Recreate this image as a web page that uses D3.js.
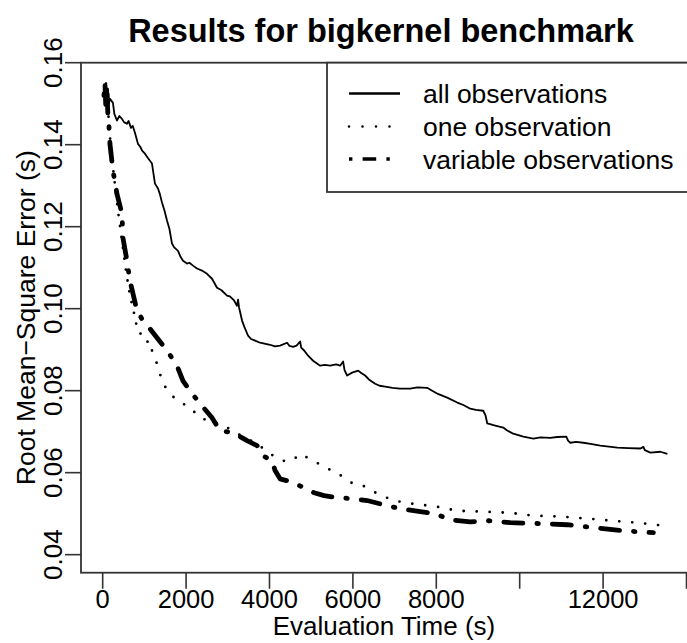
<!DOCTYPE html>
<html>
<head>
<meta charset="utf-8">
<script src="https://cdn.jsdelivr.net/npm/d3@7"></script>
<style>
  body { margin: 0; background: #fff; }
  text { font-family: "Liberation Sans", Arial, Helvetica, sans-serif; fill: #000; }
</style>
</head>
<body>
<div id="chart"></div>
<script>
// [evaluation time (s), rmse (s)]
var allObs = [[30,0.1520],[80,0.1545],[110,0.1510],[126,0.1537],[150,0.1500],[175,0.1512],[246,0.1502],[280,0.1475],[342,0.1459],[400,0.1470],[462,0.1463],[510,0.1455],[582,0.1451],[620,0.1458],[678,0.1441],[720,0.1446],[774,0.1429],[846,0.1402],[900,0.1395],[950,0.1385],[1014,0.1378],[1080,0.1368],[1182,0.1354],[1254,0.1305],[1326,0.1293],[1370,0.1280],[1422,0.1259],[1480,0.1240],[1542,0.1215],[1600,0.1195],[1662,0.1159],[1710,0.1150],[1806,0.1141],[1860,0.1128],[1926,0.1117],[2022,0.1110],[2080,0.1112],[2166,0.1105],[2262,0.1098],[2380,0.1093],[2502,0.1085],[2622,0.1073],[2742,0.1051],[2850,0.1045],[2982,0.1032],[3050,0.1030],[3150,0.1020],[3222,0.1007],[3246,0.1022],[3270,0.1003],[3342,0.0971],[3400,0.0955],[3486,0.0934],[3560,0.0926],[3654,0.0922],[3774,0.0917],[3880,0.0915],[4014,0.0912],[4130,0.0908],[4254,0.0910],[4422,0.0917],[4480,0.0909],[4566,0.0907],[4650,0.0910],[4734,0.0920],[4760,0.0905],[4830,0.0898],[4920,0.0886],[5046,0.0873],[5214,0.0861],[5330,0.0863],[5454,0.0861],[5600,0.0864],[5694,0.0861],[5766,0.0871],[5800,0.0850],[5862,0.0837],[5982,0.0844],[6126,0.0849],[6200,0.0843],[6294,0.0837],[6400,0.0826],[6534,0.0817],[6640,0.0812],[6774,0.0810],[6950,0.0807],[7134,0.0805],[7374,0.0805],[7550,0.0808],[7782,0.0807],[7900,0.0800],[8022,0.0793],[8262,0.0783],[8502,0.0771],[8650,0.0765],[8814,0.0756],[8950,0.0753],[9126,0.0751],[9180,0.0740],[9222,0.0720],[9414,0.0715],[9606,0.0710],[9700,0.0703],[9846,0.0695],[10086,0.0688],[10326,0.0683],[10500,0.0686],[10734,0.0685],[10900,0.0687],[11118,0.0688],[11160,0.0678],[11214,0.0673],[11350,0.0675],[11526,0.0673],[11700,0.0670],[11934,0.0666],[12342,0.0661],[12600,0.0660],[12894,0.0659],[12966,0.0663],[13000,0.0655],[13134,0.0649],[13374,0.0651],[13542,0.0646]]

var oneObs = [[30,0.1527],[78,0.1551],[102,0.1507],[150,0.1459],[198,0.1385],[270,0.1324],[366,0.1239],[462,0.1166],[558,0.1093],[654,0.1032],[750,0.0990],[822,0.0954],[966,0.0929],[1062,0.0922],[1182,0.0898],[1302,0.0866],[1374,0.0841],[1446,0.0817],[1614,0.0793],[1782,0.0776],[2022,0.0763],[2142,0.0756],[2262,0.0739],[2502,0.0727],[2694,0.0720],[2862,0.0720],[3126,0.0700],[3462,0.0683],[3702,0.0671],[3846,0.0659],[3966,0.0649],[4134,0.0639],[4326,0.0629],[4542,0.0629],[4734,0.0646],[4902,0.0637],[5142,0.0624],[5382,0.0610],[5622,0.0600],[5814,0.0585],[6006,0.0573],[6246,0.0568],[6486,0.0554],[6966,0.0532],[7446,0.0524],[8022,0.0517],[8502,0.0507],[9126,0.0505],[9774,0.0502],[10326,0.0495],[10974,0.0493],[11622,0.0488],[12174,0.0483],[12822,0.0478],[13422,0.0471]]

var varObs = [[30,0.1520],[54,0.1551],[78,0.1483],[102,0.1532],[126,0.1470],[150,0.1446],[174,0.1402],[246,0.1337],[342,0.1280],[414,0.1251],[462,0.1232],[486,0.1173],[582,0.1117],[654,0.1068],[726,0.1037],[822,0.0995],[966,0.0971],[1134,0.0951],[1302,0.0929],[1542,0.0898],[1782,0.0861],[1926,0.0824],[2142,0.0793],[2382,0.0763],[2622,0.0734],[2814,0.0702],[3126,0.0698],[3462,0.0678],[3702,0.0666],[3846,0.0641],[4062,0.0629],[4134,0.0605],[4254,0.0585],[4566,0.0576],[5070,0.0551],[5310,0.0544],[5622,0.0539],[5934,0.0537],[6342,0.0532],[6654,0.0524],[7134,0.0512],[7614,0.0505],[7974,0.0500],[8214,0.0490],[8334,0.0485],[8814,0.0480],[9222,0.0483],[9774,0.0478],[10422,0.0476],[11142,0.0473],[11766,0.0466],[12414,0.0459],[12822,0.0456],[13206,0.0454]]

var xTicks = [0, 2000, 4000, 6000, 8000, 10000, 12000, 14000]
var xLabels = [0, 2000, 4000, 6000, 8000, 12000]
var yTicks = [0.04, 0.06, 0.08, 0.10, 0.12, 0.14, 0.16]
var legendNames = ["all observations", "one observation", "variable observations"]

var W = 687, H = 643
var box = {left: 81, right: 689, top: 62.7, bottom: 572.7}

var x = d3.scaleLinear().domain([-520, 14060]).range([box.left, box.right])
var y = d3.scaleLinear().domain([0.0356, 0.16]).range([box.bottom, box.top])

var svg = d3.select("#chart").append("svg")
  .attr("width", W).attr("height", H)
  .style("background", "#fff")

svg.append("clipPath").attr("id", "plotclip")
  .append("rect")
  .attr("x", box.left).attr("y", box.top)
  .attr("width", box.right - box.left).attr("height", box.bottom - box.top)

var line = d3.line().x(function(d){ return x(d[0]) }).y(function(d){ return y(d[1]) })
var lines = svg.append("g").attr("clip-path", "url(#plotclip)")

lines.append("path").datum(allObs)
  .attr("d", line).attr("fill", "none")
  .attr("stroke", "#000").attr("stroke-width", 1.8)
  .attr("stroke-linejoin", "round")

// dots sit closer on the steep part than on the flat tail
var split = 14
lines.append("path").datum(oneObs.slice(0, split + 1))
  .attr("d", line).attr("fill", "none")
  .attr("stroke", "#000").attr("stroke-width", 2.8)
  .attr("stroke-linecap", "round").attr("stroke-dasharray", "0,11")
lines.append("path").datum(oneObs.slice(split))
  .attr("d", line).attr("fill", "none")
  .attr("stroke", "#000").attr("stroke-width", 2.8)
  .attr("stroke-linecap", "round").attr("stroke-dasharray", "0,13")

lines.append("path").datum(varObs)
  .attr("d", line).attr("fill", "none")
  .attr("stroke", "#000").attr("stroke-width", 4.8)
  .attr("stroke-linecap", "round").attr("stroke-linejoin", "round")
  .attr("stroke-dasharray", "1.5,14,19,14")

// box
svg.append("rect")
  .attr("x", box.left).attr("y", box.top)
  .attr("width", box.right - box.left).attr("height", box.bottom - box.top)
  .attr("fill", "none").attr("stroke", "#333").attr("stroke-width", 1.8)

// x axis
var xAxis = svg.append("g")
xAxis.selectAll("line.tick").data(xTicks).enter().append("line")
  .attr("x1", function(d){ return x(d) }).attr("x2", function(d){ return x(d) })
  .attr("y1", box.bottom).attr("y2", box.bottom + 16)
  .attr("stroke", "#333").attr("stroke-width", 1.6)
xAxis.selectAll("text").data(xLabels).enter().append("text")
  .attr("x", function(d){ return x(d) }).attr("y", 608)
  .attr("text-anchor", "middle").style("font-size", "25.5px")
  .text(function(d){ return d })

// y axis
var yAxis = svg.append("g")
yAxis.selectAll("line").data(yTicks).enter().append("line")
  .attr("x1", box.left - 16).attr("x2", box.left)
  .attr("y1", function(d){ return y(d) }).attr("y2", function(d){ return y(d) })
  .attr("stroke", "#333").attr("stroke-width", 1.6)
yAxis.selectAll("text").data(yTicks).enter().append("text")
  .attr("transform", function(d){ return "translate(62," + y(d) + ") rotate(-90)" })
  .attr("text-anchor", "middle").style("font-size", "26px")
  .text(function(d){ return d3.format(".2f")(d) })

// titles
svg.append("text")
  .attr("x", 381).attr("y", 42)
  .attr("text-anchor", "middle")
  .style("font-size", "32.5px").style("font-weight", "bold")
  .text("Results for bigkernel benchmark")
svg.append("text")
  .attr("x", 384).attr("y", 635)
  .attr("text-anchor", "middle").style("font-size", "26px")
  .text("Evaluation Time (s)")
svg.append("text")
  .attr("transform", "translate(35," + ((box.top + box.bottom) / 2) + ") rotate(-90)")
  .attr("text-anchor", "middle").style("font-size", "26.5px")
  .text("Root Mean\u2212Square Error (s)")

// legend
var lg = svg.append("g")
lg.append("rect")
  .attr("x", 327).attr("y", box.top).attr("width", 400).attr("height", 192 - box.top)
  .attr("fill", "#fff").attr("stroke", "#333").attr("stroke-width", 1.8)
var rowY = [93.5, 126.5, 159]
var rowStyle = [
  {w: 2.5, dash: null, cap: "butt"},
  {w: 2.6, dash: "0,13.5", cap: "round"},
  {w: 3.4, dash: "3.4,10.2,13.6,10.2", cap: "butt"}
]
legendNames.forEach(function(name, i){
  lg.append("line")
    .attr("x1", 349).attr("x2", 400).attr("y1", rowY[i]).attr("y2", rowY[i])
    .attr("stroke", "#000").attr("stroke-width", rowStyle[i].w)
    .attr("stroke-linecap", rowStyle[i].cap)
    .attr("stroke-dasharray", rowStyle[i].dash)
  lg.append("text")
    .attr("x", 423).attr("y", rowY[i] + 9.5)
    .style("font-size", "26.5px")
    .text(name)
})
</script>
</body>
</html>
